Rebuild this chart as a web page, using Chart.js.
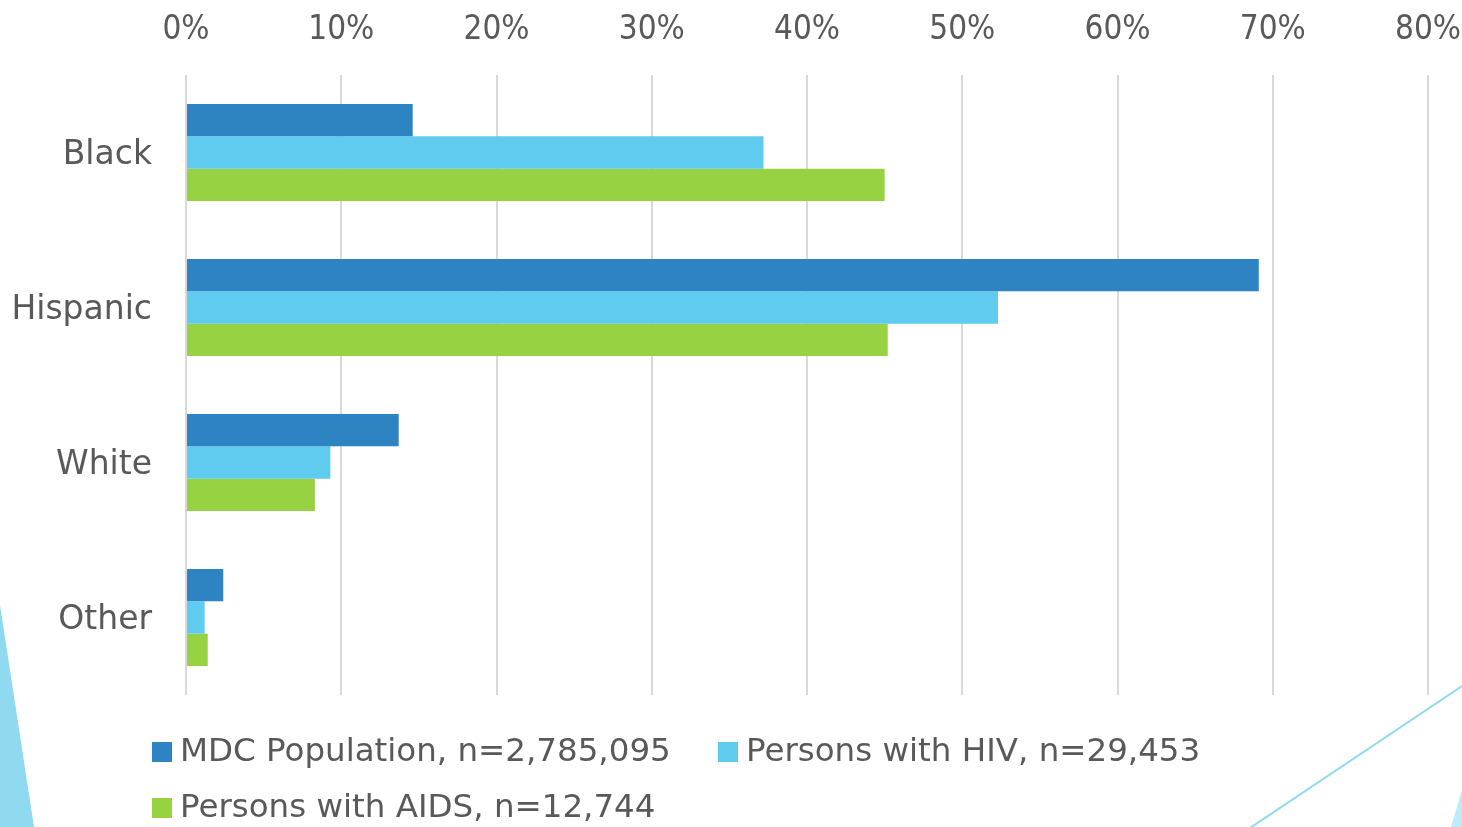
<!DOCTYPE html>
<html>
<head>
<meta charset="utf-8">
<script src="https://cdn.jsdelivr.net/npm/chart.js@4/dist/chart.umd.min.js"></script>
<style>
  html, body { margin: 0; padding: 0; background: #ffffff; }
  #wrap { position: relative; width: 1462px; height: 827px; }
</style>
</head>
<body>
<div id="wrap"><canvas id="c" width="1462" height="827"></canvas></div>
<script>
const categories = ["Black", "Hispanic", "White", "Other"];
const seriesNames = ["MDC Population, n=2,785,095", "Persons with HIV, n=29,453", "Persons with AIDS, n=12,744"];
const mdcPopulation = [14.6, 69.1, 13.7, 2.4];
const personsWithHIV = [37.2, 52.3, 9.3, 1.2];
const personsWithAIDS = [45.0, 45.2, 8.3, 1.4];
const tickValues = [0, 10, 20, 30, 40, 50, 60, 70, 80];

const colors = ["#2E83C3", "#5ECBEF", "#96D241"];
const textColor = "#595959";
const fontFamily = "'DejaVu Sans', sans-serif";
const tickFontFamily = "'DejaVu Sans Condensed', 'DejaVu Sans', sans-serif";

const decorPlugin = {
  id: 'decor',
  beforeDraw(chart) {
    const ctx = chart.ctx;
    ctx.save();
    ctx.fillStyle = '#ffffff';
    ctx.fillRect(0, 0, chart.width, chart.height);
    ctx.fillStyle = '#8FDAF1';
    ctx.beginPath();
    ctx.moveTo(0, 605);
    ctx.lineTo(34, 827);
    ctx.lineTo(0, 827);
    ctx.closePath();
    ctx.fill();
    ctx.strokeStyle = '#8FDAF1';
    ctx.lineWidth = 2;
    ctx.beginPath();
    ctx.moveTo(1462, 686);
    ctx.lineTo(1250, 828);
    ctx.stroke();
    ctx.fillStyle = '#BDEBF8';
    ctx.beginPath();
    ctx.moveTo(1462, 790);
    ctx.lineTo(1462, 827);
    ctx.lineTo(1451, 827);
    ctx.closePath();
    ctx.fill();
    ctx.restore();
  }
};

const legendPlugin = {
  id: 'customLegend',
  afterDraw(chart) {
    const ctx = chart.ctx;
    const items = [
      { x: 152, y: 752 },
      { x: 718, y: 752 },
      { x: 152, y: 808 }
    ];
    ctx.save();
    ctx.font = "32.5px " + fontFamily;
    ctx.textBaseline = 'middle';
    ctx.textAlign = 'left';
    chart.data.datasets.forEach((ds, i) => {
      const p = items[i];
      ctx.fillStyle = ds.backgroundColor;
      ctx.fillRect(p.x, p.y - 10, 20, 20);
      ctx.fillStyle = textColor;
      ctx.fillText(ds.label, p.x + 28, p.y + 1);
    });
    ctx.restore();
  }
};

new Chart(document.getElementById('c'), {
  type: 'bar',
  data: {
    labels: categories,
    datasets: [
      { label: seriesNames[0], data: mdcPopulation, backgroundColor: colors[0] },
      { label: seriesNames[1], data: personsWithHIV, backgroundColor: colors[1] },
      { label: seriesNames[2], data: personsWithAIDS, backgroundColor: colors[2] }
    ]
  },
  options: {
    indexAxis: 'y',
    responsive: false,
    animation: false,
    devicePixelRatio: 1,
    layout: { padding: { left: 0, right: 34, top: 0, bottom: 132 } },
    datasets: { bar: { barPercentage: 1.0, categoryPercentage: 0.626 } },
    plugins: {
      legend: { display: false },
      tooltip: { enabled: false }
    },
    scales: {
      x: {
        position: 'top',
        min: 0,
        max: 80,
        afterBuildTicks(scale) { scale.ticks = tickValues.map(v => ({ value: v })); },
        afterFit(scale) { scale.height = 75; scale.paddingLeft = 0; scale.paddingRight = 0; },
        ticks: {
          color: textColor,
          font: { family: tickFontFamily, size: 33 },
          padding: 25,
          callback: v => v + '%'
        },
        grid: { color: '#D9D9D9', lineWidth: 2, drawTicks: false },
        border: { display: false }
      },
      y: {
        afterFit(scale) { scale.width = 186; },
        ticks: {
          color: textColor,
          font: { family: fontFamily, size: 33 },
          padding: 34,
          labelOffset: 3
        },
        grid: { display: false, drawTicks: false },
        border: { display: false }
      }
    }
  },
  plugins: [decorPlugin, legendPlugin]
});
</script>
</body>
</html>
